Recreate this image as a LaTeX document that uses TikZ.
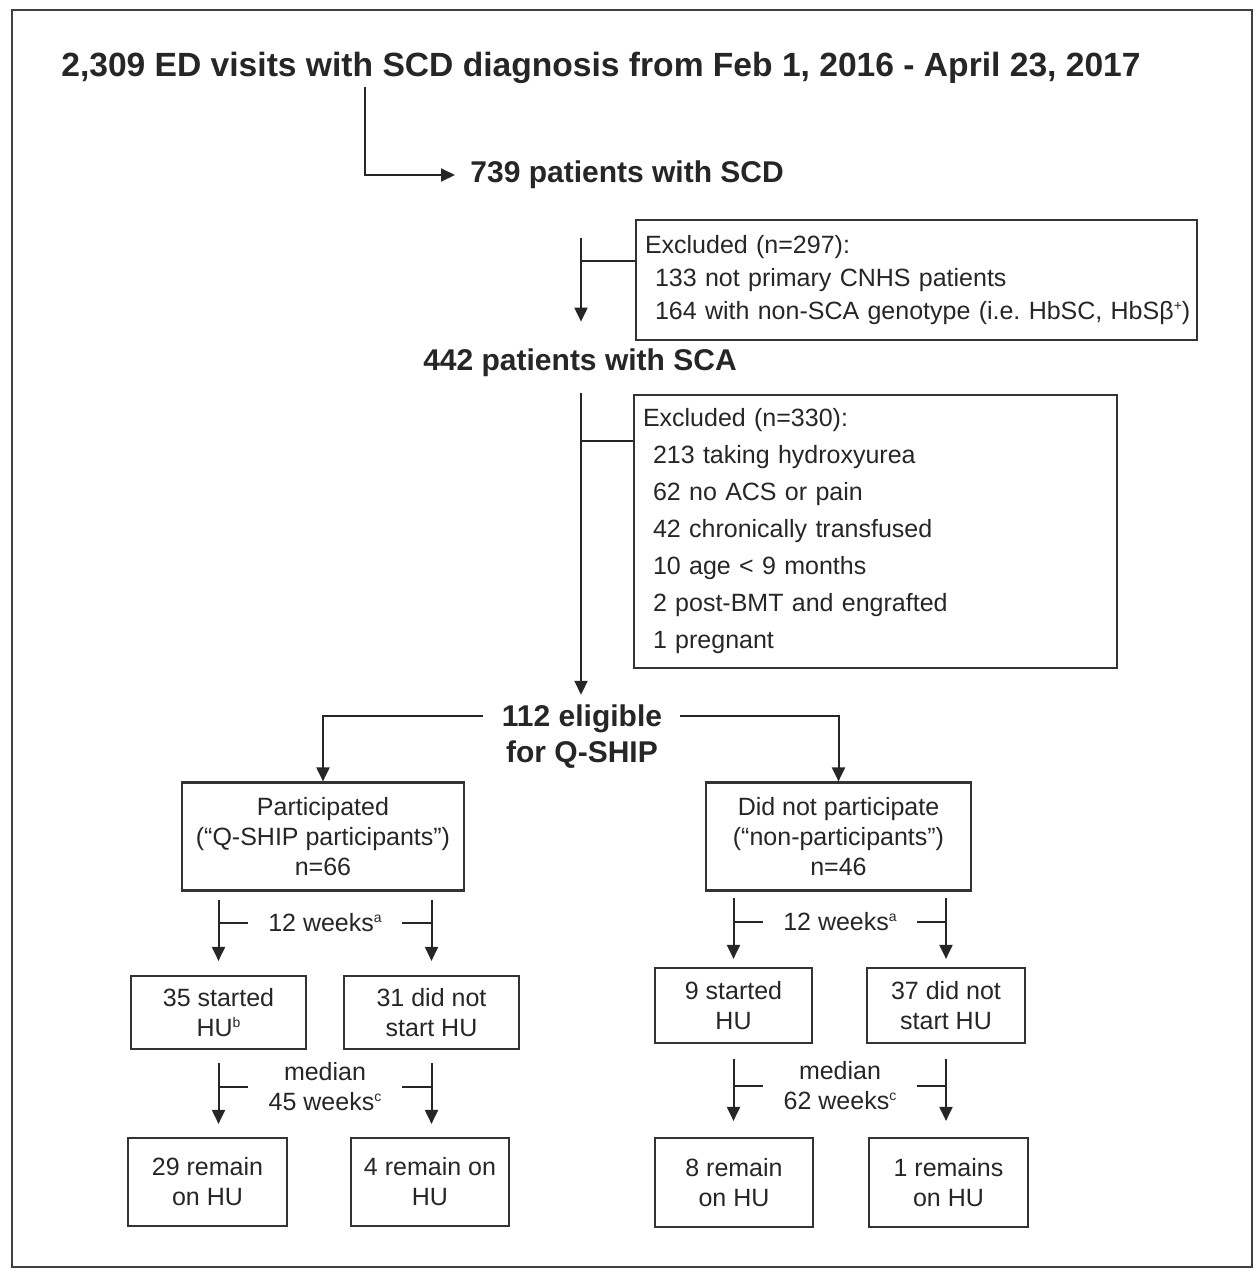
\documentclass[tikz,border=0pt]{standalone}
\usepackage{fontspec}
\setmainfont{Liberation Sans}
\usetikzlibrary{arrows.meta}
\newcommand{\sumark}[1]{\raisebox{4.5pt}{\fontsize{7}{7}\selectfont #1}}

\begin{document}
\begin{tikzpicture}[
        x=0.5pt, y=-0.5pt,
        every node/.style={text=black!85},
        title/.style={font=\fontsize{16.8}{20}\selectfont\bfseries, inner sep=0pt},
        count/.style={font=\fontsize{15}{18}\selectfont\bfseries, align=center, inner sep=0pt},
        excl/.style={rectangle, draw=black!80, line width=1.1pt, align=left, inner xsep=4.5pt, font=\fontsize{12.5}{16.5}\selectfont},
        box/.style={rectangle, draw=black!80, line width=1.1pt, align=center, inner sep=0pt, font=\fontsize{12.5}{15}\selectfont},
        arrow/.style={-{Triangle[length=7pt,width=6.5pt]}, line width=1pt, draw=black!85},
        tick/.style={line width=1pt, draw=black!85},
        labelstyle/.style={font=\fontsize{12.5}{15}\selectfont, align=center, inner xsep=10pt, inner ysep=0pt}
    ]
        \useasboundingbox (0,0) rectangle (1259,1271);
        \draw[line width=1.3pt, black!75] (12,10) rectangle (1252,1267);

        \node (visits) [title] at (601,68) {2,309 ED visits with SCD diagnosis from Feb 1, 2016 - April 23, 2017};
        \node (scd) [count, anchor=west] at (470,175) {739 patients with SCD};
        \node (excl1) [excl, text width=271.5pt, minimum height=60pt] at (916.5,280) {Excluded (n=297):\\ \mbox{\hspace*{5pt}133 not primary CNHS patients}\\ \mbox{\hspace*{5pt}164 with non-SCA genotype (i.e.\ HbSC, HbSβ\sumark{+})}};
        \node (sca) [count] at (580,363) {442 patients with SCA};
        \node (excl2) [excl, text width=232.5pt, minimum height=136.5pt, font=\fontsize{12.5}{18.5}\selectfont] at (875.5,531.5) {Excluded (n=330):\\ \hspace*{5pt}213 taking hydroxyurea\\ \hspace*{5pt}62 no ACS or pain\\ \hspace*{5pt}42 chronically transfused\\ \hspace*{5pt}10 age < 9 months\\ \hspace*{5pt}2 post-BMT and engrafted\\ \hspace*{5pt}1 pregnant};
        \node (elig) [count] at (582,737) {112 eligible\\for Q-SHIP};

        \node (part) [box, minimum width=141pt, minimum height=54pt] at (323,836.5) {Participated\\(“Q-SHIP participants”)\\n=66};
        \node (nonpart) [box, minimum width=132.5pt, minimum height=54pt] at (838.5,836.5) {Did not participate\\(“non-participants”)\\n=46};

        \node (s35) [box, minimum width=87.5pt, minimum height=36.5pt] at (218.5,1012.5) {35 started\\HU\sumark{b}};
        \node (s31) [box, minimum width=87.5pt, minimum height=36.5pt] at (431.5,1012.5) {31 did not\\start HU};
        \node (s9) [box, minimum width=78.5pt, minimum height=37.5pt] at (733.5,1005.5) {9 started\\HU};
        \node (s37) [box, minimum width=79pt, minimum height=37.5pt] at (946,1005.5) {37 did not\\start HU};

        \node (r29) [box, minimum width=79.5pt, minimum height=44pt] at (207.5,1182) {29 remain\\on HU};
        \node (r4) [box, minimum width=79pt, minimum height=44pt] at (430,1182) {4 remain on\\HU};
        \node (r8) [box, minimum width=79pt, minimum height=44.5pt] at (734,1182.5) {8 remain\\on HU};
        \node (r1) [box, minimum width=79.5pt, minimum height=44.5pt] at (948.5,1182.5) {1 remains\\on HU};

        \node (wk1) [labelstyle] at (325,923) {12 weeks\sumark{a}};
        \node (wk2) [labelstyle] at (840,922) {12 weeks\sumark{a}};
        \node (md1) [labelstyle] at (325,1087) {median\\45 weeks\sumark{c}};
        \node (md2) [labelstyle] at (840,1086) {median\\62 weeks\sumark{c}};

        \coordinate (split0) at (365,87);
        \coordinate (split1) at (581,238);
        \coordinate (b1) at (581,261);
        \coordinate (split2) at (581,393);
        \coordinate (b2) at (581,441);
        \coordinate (eL) at (483,716);
        \coordinate (eR) at (680,716);

        \draw [arrow, shorten >=7.5pt] (split0) |- (scd.west);
        \draw [arrow, shorten >=13.5pt] (split1) -- (split1 |- sca.north);
        \draw [tick] (b1) -- (b1 -| excl1.west);
        \draw [arrow, shorten >=5pt] (split2) -- (split2 |- elig.north);
        \draw [tick] (b2) -- (b2 -| excl2.west);
        \draw [arrow] (eL) -| (part.north);
        \draw [arrow] (eR) -| (nonpart.north);

        \draw [arrow, shorten <=4pt, shorten >=7pt] (part.south -| s35) -- (s35.north);
        \draw [arrow, shorten <=4pt, shorten >=7pt] (part.south -| s31) -- (s31.north);
        \draw [tick] (wk1.west -| s35) -- (wk1.west);
        \draw [tick] (wk1.east) -- (wk1.east -| s31);
        \draw [arrow, shorten <=3pt, shorten >=4pt] (nonpart.south -| s9) -- (s9.north);
        \draw [arrow, shorten <=3pt, shorten >=4pt] (nonpart.south -| s37) -- (s37.north);
        \draw [tick] (wk2.west -| s9) -- (wk2.west);
        \draw [tick] (wk2.east) -- (wk2.east -| s37);

        \draw [arrow, shorten <=6.5pt, shorten >=6.5pt] (s35.south) -- (s35.south |- r29.north);
        \draw [arrow, shorten <=6.5pt, shorten >=6.5pt] (s31.south) -- (s31.south |- r4.north);
        \draw [tick] (md1.west -| s35) -- (md1.west);
        \draw [tick] (md1.east) -- (md1.east -| s31);
        \draw [arrow, shorten <=7.5pt, shorten >=8pt] (s9.south) -- (s9.south |- r8.north);
        \draw [arrow, shorten <=7.5pt, shorten >=8pt] (s37.south) -- (s37.south |- r1.north);
        \draw [tick] (md2.west -| s9) -- (md2.west);
        \draw [tick] (md2.east) -- (md2.east -| s37);
    \end{tikzpicture}
\end{document}
